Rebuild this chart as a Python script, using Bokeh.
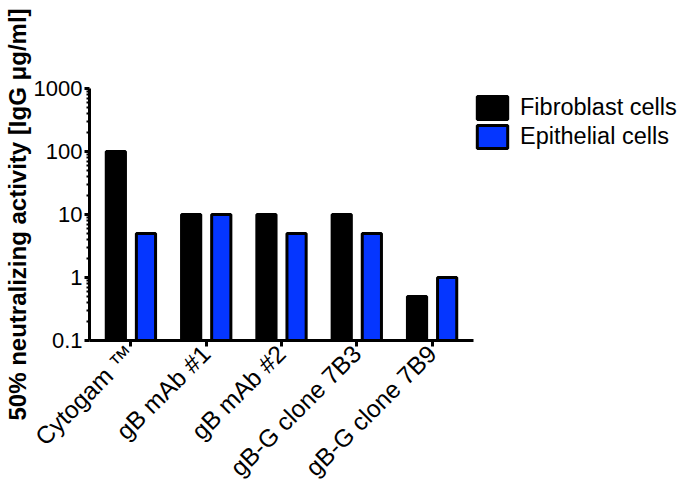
from bokeh.plotting import figure
from bokeh.models import (ColumnDataSource, FactorRange, Range1d, FixedTicker,
                          CustomJSTickFormatter, Legend, LegendItem)
from bokeh.transform import dodge
from bokeh.embed import file_html
from bokeh.resources import INLINE
from math import pi

# ---- data ----
categories = ["Cytogam \u2122", "gB mAb #1", "gB mAb #2", "gB-G clone 7B3", "gB-G clone 7B9"]
fibroblast = [100, 10, 10, 10, 0.5]
epithelial = [5, 10, 5, 5, 1]
series_names = ["Fibroblast cells", "Epithelial cells"]
series_colors = ["#000000", "#0536FF"]
y_ticks = [0.1, 1, 10, 100, 1000]
y_label = "50% neutralizing activity [IgG \u03bcg/ml]"

minor = []
for d in y_ticks[:-1]:
    for k in range(2, 10):
        minor.append(d * k)

src = ColumnDataSource(dict(cat=categories, fib=fibroblast, epi=epithelial,
                            base=[y_ticks[0]] * len(categories)))

FONT = "Liberation Sans"

p = figure(frame_width=384, frame_height=252, output_backend="svg", toolbar_location=None,
           x_range=FactorRange(*categories, range_padding=0.02),
           y_range=Range1d(y_ticks[0], y_ticks[-1]), y_axis_type="log",
           min_border_left=88, min_border_right=0, min_border_top=88,
           min_border_bottom=100)

r1 = p.vbar(x=dodge("cat", -0.2, range=p.x_range), bottom="base", top="fib", width=0.255,
            source=src, fill_color=series_colors[0], line_color="black", line_width=3)
r2 = p.vbar(x=dodge("cat", 0.2, range=p.x_range), bottom="base", top="epi", width=0.255,
            source=src, fill_color=series_colors[1], line_color="black", line_width=3)

p.xgrid.visible = False
p.ygrid.visible = False
p.outline_line_color = None
p.background_fill_color = "white"

# y axis
ya = p.yaxis[0]
ya.ticker = FixedTicker(ticks=y_ticks, minor_ticks=minor)
ya.formatter = CustomJSTickFormatter(code="return String(tick);")
ya.axis_line_width = 3
ya.major_tick_line_width = 3
ya.minor_tick_line_width = 2
ya.major_tick_out = 5
ya.major_tick_in = 0
ya.minor_tick_out = 3
ya.minor_tick_in = 0
ya.major_label_standoff = 2
ya.major_label_text_font = FONT
ya.major_label_text_font_size = "22px"
ya.major_label_text_color = "black"
ya.axis_label = y_label
ya.axis_label_text_font = FONT
ya.axis_label_text_font_style = "bold"
ya.axis_label_text_font_size = "24px"
ya.axis_label_text_color = "black"
ya.axis_label_standoff = 0

# x axis
xa = p.xaxis[0]
xa.axis_line_width = 3
xa.major_tick_line_width = 3
xa.major_tick_out = 6
xa.major_tick_in = 0
xa.minor_tick_line_color = None
xa.major_label_orientation = pi / 4
xa.major_label_standoff = 3
xa.major_label_text_font = FONT
xa.major_label_text_font_size = "24.5px"
xa.major_label_text_color = "black"

legend = Legend(items=[LegendItem(label=series_names[0], renderers=[r1]),
                       LegendItem(label=series_names[1], renderers=[r2])],
                location=(0, 189), glyph_width=38, glyph_height=29, spacing=-2,
                padding=0, margin=0, label_standoff=9,
                label_text_font=FONT, label_text_font_size="23.5px",
                label_text_color="black",
                border_line_color=None, background_fill_alpha=0)
p.add_layout(legend, "right")

open("out.html", "w").write(file_html(p, INLINE))
